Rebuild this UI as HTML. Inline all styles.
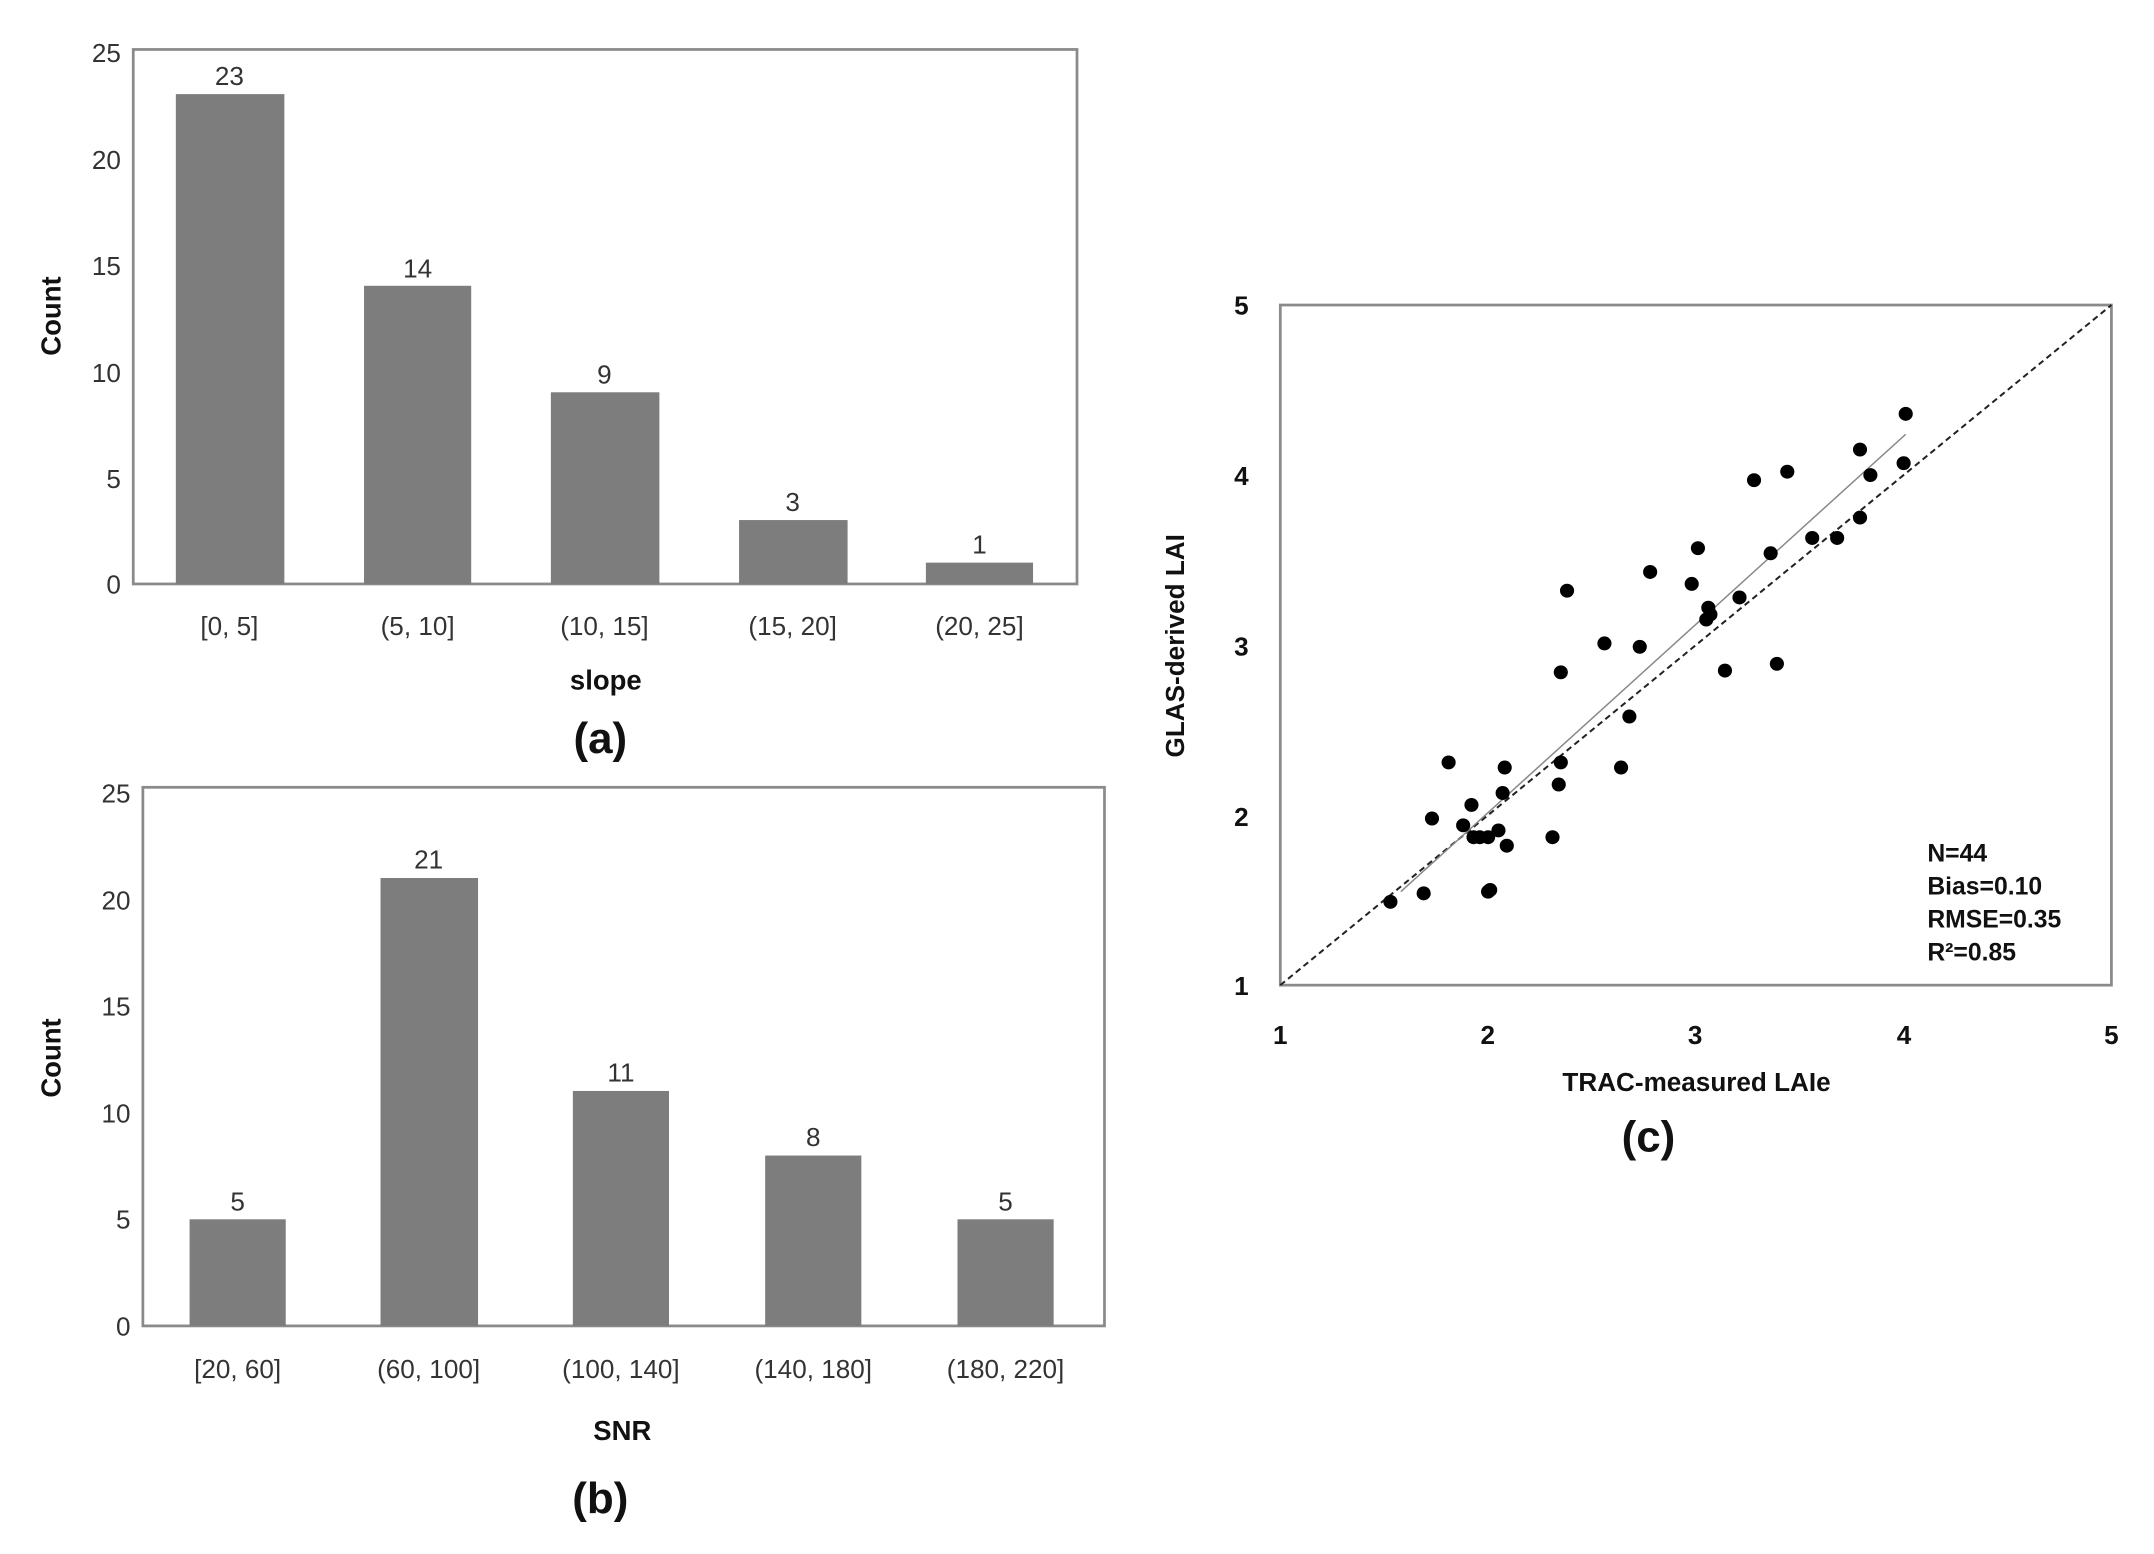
<!DOCTYPE html>
<html><head><meta charset="utf-8"><style>
html,body{margin:0;padding:0;background:#fff;}
svg{display:block;}
.t{font-family:"Liberation Sans",sans-serif;fill:#333;font-size:19px;}
.b{font-family:"Liberation Sans",sans-serif;font-weight:bold;fill:#111;}
</style></head><body>
<svg width="2154" height="1554" viewBox="0 0 1568 1131" preserveAspectRatio="none" xmlns="http://www.w3.org/2000/svg">
<rect width="1568" height="1131" fill="#fff"/>
<rect x="97" y="36" width="687" height="389" fill="none" stroke="#8a8a8a" stroke-width="2"/>
<g fill="#7d7d7d">
<rect x="128" y="68.5" width="79" height="356.5"/>
<rect x="265" y="208" width="78" height="217"/>
<rect x="401" y="285.5" width="79" height="139.5"/>
<rect x="538" y="378.5" width="79" height="46.5"/>
<rect x="674" y="409.5" width="78" height="15.5"/>
</g>
<g class="t" text-anchor="end">
<text x="88" y="45">25</text><text x="88" y="123">20</text><text x="88" y="200">15</text>
<text x="88" y="278">10</text><text x="88" y="355">5</text><text x="88" y="432">0</text>
</g>
<g class="t" text-anchor="middle">
<text x="167" y="62">23</text><text x="304" y="202">14</text><text x="440" y="279">9</text>
<text x="577" y="372">3</text><text x="713" y="403">1</text>
<text x="167" y="462">[0, 5]</text><text x="304" y="462">(5, 10]</text><text x="440" y="462">(10, 15]</text>
<text x="577" y="462">(15, 20]</text><text x="713" y="462">(20, 25]</text>
</g>
<text class="b" x="441" y="502" font-size="20" text-anchor="middle">slope</text>
<text class="b" x="437" y="548" font-size="32" text-anchor="middle">(a)</text>
<text class="b" x="44" y="230" font-size="20" text-anchor="middle" transform="rotate(-90 44 230)">Count</text>
<rect x="104" y="573" width="700" height="392" fill="none" stroke="#8a8a8a" stroke-width="2"/>
<g fill="#7d7d7d">
<rect x="138" y="887.4" width="70" height="77.6"/>
<rect x="277" y="639" width="71" height="326"/>
<rect x="417" y="794" width="70" height="171"/>
<rect x="557" y="841" width="70" height="124"/>
<rect x="697" y="887.4" width="70" height="77.6"/>
</g>
<g class="t" text-anchor="end">
<text x="95" y="584">25</text><text x="95" y="662">20</text><text x="95" y="739">15</text>
<text x="95" y="817">10</text><text x="95" y="894">5</text><text x="95" y="972">0</text>
</g>
<g class="t" text-anchor="middle">
<text x="173" y="881">5</text><text x="312" y="632">21</text><text x="452" y="787">11</text>
<text x="592" y="834">8</text><text x="732" y="881">5</text>
<text x="173" y="1003">[20, 60]</text><text x="312" y="1003">(60, 100]</text><text x="452" y="1003">(100, 140]</text>
<text x="592" y="1003">(140, 180]</text><text x="732" y="1003">(180, 220]</text>
</g>
<text class="b" x="453" y="1048" font-size="20" text-anchor="middle">SNR</text>
<text class="b" x="437" y="1101" font-size="32" text-anchor="middle">(b)</text>
<text class="b" x="44" y="770" font-size="20" text-anchor="middle" transform="rotate(-90 44 770)">Count</text>
<rect x="932" y="222" width="605" height="495" fill="none" stroke="#8a8a8a" stroke-width="2"/>
<g class="b" font-size="19" text-anchor="end">
<text x="909" y="229">5</text><text x="909" y="353">4</text><text x="909" y="477">3</text>
<text x="909" y="601">2</text><text x="909" y="724">1</text>
</g>
<g class="b" font-size="19" text-anchor="middle">
<text x="932" y="760">1</text><text x="1083" y="760">2</text><text x="1234" y="760">3</text>
<text x="1386" y="760">4</text><text x="1537" y="760">5</text>
</g>
<text class="b" x="1235" y="794" font-size="19" text-anchor="middle" fill="#333">TRAC-measured LAIe</text>
<text class="b" x="1200" y="838" font-size="32" text-anchor="middle">(c)</text>
<text class="b" x="862" y="470" font-size="19" text-anchor="middle" fill="#333" transform="rotate(-90 862 470)">GLAS-derived LAI</text>
<g class="b" font-size="18" fill="#222">
<text x="1403" y="627">N=44</text><text x="1403" y="651">Bias=0.10</text>
<text x="1403" y="675">RMSE=0.35</text><text x="1403" y="699">R²=0.85</text>
</g>
<g transform="translate(780.75,840.75) scale(151.25,-123.75)">
<line x1="1" y1="1" x2="5" y2="5" stroke="#222" stroke-width="2" stroke-dasharray="6,4" vector-effect="non-scaling-stroke"/>
<line x1="1.58" y1="1.55" x2="4.01" y2="4.24" stroke="#888" stroke-width="1.5" vector-effect="non-scaling-stroke"/>
<g fill="#000">
<ellipse cx="4.01" cy="4.36" rx="0.034" ry="0.041"/>
<ellipse cx="3.79" cy="4.15" rx="0.034" ry="0.041"/>
<ellipse cx="4.0" cy="4.07" rx="0.034" ry="0.041"/>
<ellipse cx="3.84" cy="4.0" rx="0.034" ry="0.041"/>
<ellipse cx="3.28" cy="3.97" rx="0.034" ry="0.041"/>
<ellipse cx="3.44" cy="4.02" rx="0.034" ry="0.041"/>
<ellipse cx="3.79" cy="3.75" rx="0.034" ry="0.041"/>
<ellipse cx="3.68" cy="3.63" rx="0.034" ry="0.041"/>
<ellipse cx="3.56" cy="3.63" rx="0.034" ry="0.041"/>
<ellipse cx="3.36" cy="3.54" rx="0.034" ry="0.041"/>
<ellipse cx="3.01" cy="3.57" rx="0.034" ry="0.041"/>
<ellipse cx="2.78" cy="3.43" rx="0.034" ry="0.041"/>
<ellipse cx="2.98" cy="3.36" rx="0.034" ry="0.041"/>
<ellipse cx="2.38" cy="3.32" rx="0.034" ry="0.041"/>
<ellipse cx="3.06" cy="3.22" rx="0.034" ry="0.041"/>
<ellipse cx="3.21" cy="3.28" rx="0.034" ry="0.041"/>
<ellipse cx="3.07" cy="3.18" rx="0.034" ry="0.041"/>
<ellipse cx="3.05" cy="3.15" rx="0.034" ry="0.041"/>
<ellipse cx="2.56" cy="3.01" rx="0.034" ry="0.041"/>
<ellipse cx="2.73" cy="2.99" rx="0.034" ry="0.041"/>
<ellipse cx="2.35" cy="2.84" rx="0.034" ry="0.041"/>
<ellipse cx="3.14" cy="2.85" rx="0.034" ry="0.041"/>
<ellipse cx="3.39" cy="2.89" rx="0.034" ry="0.041"/>
<ellipse cx="2.68" cy="2.58" rx="0.034" ry="0.041"/>
<ellipse cx="2.35" cy="2.31" rx="0.034" ry="0.041"/>
<ellipse cx="1.81" cy="2.31" rx="0.034" ry="0.041"/>
<ellipse cx="2.08" cy="2.28" rx="0.034" ry="0.041"/>
<ellipse cx="2.64" cy="2.28" rx="0.034" ry="0.041"/>
<ellipse cx="2.34" cy="2.18" rx="0.034" ry="0.041"/>
<ellipse cx="2.07" cy="2.13" rx="0.034" ry="0.041"/>
<ellipse cx="1.92" cy="2.06" rx="0.034" ry="0.041"/>
<ellipse cx="1.73" cy="1.98" rx="0.034" ry="0.041"/>
<ellipse cx="1.88" cy="1.94" rx="0.034" ry="0.041"/>
<ellipse cx="2.05" cy="1.91" rx="0.034" ry="0.041"/>
<ellipse cx="1.93" cy="1.87" rx="0.034" ry="0.041"/>
<ellipse cx="1.96" cy="1.87" rx="0.034" ry="0.041"/>
<ellipse cx="2.0" cy="1.87" rx="0.034" ry="0.041"/>
<ellipse cx="2.09" cy="1.82" rx="0.034" ry="0.041"/>
<ellipse cx="2.31" cy="1.87" rx="0.034" ry="0.041"/>
<ellipse cx="2.0" cy="1.55" rx="0.034" ry="0.041"/>
<ellipse cx="2.01" cy="1.56" rx="0.034" ry="0.041"/>
<ellipse cx="1.69" cy="1.54" rx="0.034" ry="0.041"/>
<ellipse cx="1.53" cy="1.49" rx="0.034" ry="0.041"/>
</g>
</g>
</svg>
</body></html>
